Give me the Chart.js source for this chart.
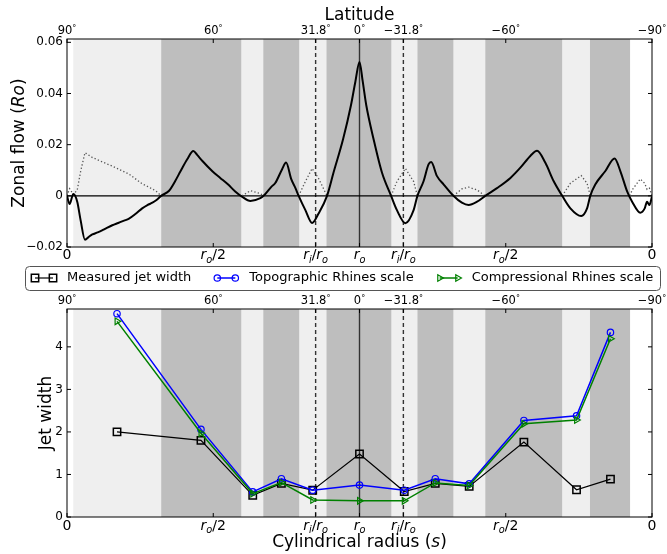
<!DOCTYPE html>
<html>
<head>
<meta charset="utf-8">
<script src="https://cdn.jsdelivr.net/npm/chart.js@4.4.1/dist/chart.umd.min.js"></script>
<style>
  html, body { margin: 0; padding: 0; background: #fff; }
  #fig { position: relative; width: 667px; height: 554px; }
  canvas { position: absolute; left: 0; }
  #flowCanvas { top: 0; }
  #jetCanvas { top: 264px; }
</style>
</head>
<body>
<div id="fig">
  <canvas id="flowCanvas" width="667" height="264"></canvas>
  <canvas id="jetCanvas" width="667" height="290"></canvas>
</div>
<script>
// Horizontal coordinate: cylindrical radius s on the northern half (0 -> r_o),
// then 2 - s on the southern half (r_o -> 0), so the equator sits at 1.

// ---- zonal flow profile (units of Ro) ----
const flowS = [0.000, 0.009, 0.0215, 0.035, 0.0465, 0.0615, 0.075, 0.0865, 0.105, 0.120,
  0.132, 0.155, 0.175, 0.195, 0.212, 0.235, 0.257, 0.275, 0.292, 0.306,
  0.322, 0.349, 0.370, 0.388, 0.411, 0.432, 0.445, 0.463, 0.497, 0.524,
  0.550, 0.575, 0.598, 0.627, 0.661, 0.672, 0.700, 0.712, 0.735, 0.749,
  0.767, 0.781, 0.792, 0.815, 0.838, 0.860, 0.889, 0.911, 0.944, 0.971,
  0.986, 1.000, 1.011, 1.023, 1.048, 1.077, 1.108, 1.128, 1.157, 1.185,
  1.198, 1.219, 1.236, 1.245, 1.265, 1.288, 1.321, 1.350, 1.373, 1.402,
  1.430, 1.470, 1.516, 1.550, 1.584, 1.607, 1.635, 1.664, 1.693, 1.721,
  1.758, 1.778, 1.789, 1.806, 1.840, 1.872, 1.892, 1.915, 1.932, 1.960,
  1.975, 1.983, 1.991, 2.000];
const flowU = [0.0000, -0.0032, 0.0007, -0.0023, -0.0095, -0.0172, -0.0160, -0.0151, -0.0143, -0.0135,
  -0.0128, -0.0115, -0.0106, -0.0097, -0.0089, -0.0070, -0.0049, -0.0036, -0.0027, -0.0016,
  0.0000, 0.0020, 0.0058, 0.0096, 0.0143, 0.0175, 0.0160, 0.0136, 0.0096, 0.0070,
  0.0045, 0.0017, -0.0003, -0.0020, -0.0009, 0.0000, 0.0037, 0.0050, 0.0103, 0.0130,
  0.0064, 0.0030, 0.0000, -0.0056, -0.0106, -0.0069, 0.0000, 0.0090, 0.0222, 0.0355,
  0.0447, 0.0523, 0.0447, 0.0355, 0.0222, 0.0090, 0.0000, -0.0056, -0.0107, -0.0056,
  0.0000, 0.0057, 0.0123, 0.0132, 0.0077, 0.0044, 0.0000, -0.0027, -0.0036, -0.0023,
  0.0000, 0.0030, 0.0070, 0.0110, 0.0156, 0.0176, 0.0130, 0.0057, 0.0000, -0.0049,
  -0.0079, -0.0049, 0.0000, 0.0044, 0.0096, 0.0146, 0.0096, 0.0017, -0.0023, -0.0066,
  -0.0049, -0.0023, -0.0036, -0.0003];

// magnitude of the westward flow (dotted); null separates the westward patches
const westS = [0.000, 0.009, 0.0215, 0.035, 0.0465, 0.0615, 0.0865, 0.132, 0.155, 0.212, 0.257, 0.292, 0.306, 0.322,
  0.40,
  0.598, 0.627, 0.661, 0.672,
  0.73,
  0.792, 0.815, 0.838, 0.860, 0.889,
  1.0,
  1.108, 1.128, 1.157, 1.185, 1.198,
  1.25,
  1.321, 1.350, 1.373, 1.402, 1.430,
  1.55,
  1.693, 1.721, 1.758, 1.778, 1.789,
  1.85,
  1.925, 1.932, 1.960, 1.975, 1.983, 1.991, 2.000];
const westU = [0.0000, 0.0028, 0.0005, 0.0023, 0.0095, 0.0169, 0.0150, 0.0127, 0.0116, 0.0085, 0.0047, 0.0027, 0.0017, 0.0000,
  null,
  0.0000, 0.0020, 0.0009, 0.0000,
  null,
  0.0000, 0.0056, 0.0107, 0.0068, 0.0000,
  null,
  0.0000, 0.0056, 0.0107, 0.0056, 0.0000,
  null,
  0.0000, 0.0027, 0.0034, 0.0023, 0.0000,
  null,
  0.0000, 0.0049, 0.0079, 0.0049, 0.0000,
  null,
  0.0000, 0.0023, 0.0066, 0.0049, 0.0025, 0.0030, 0.0000];

// shaded zones: westward (light) and eastward (dark) flow
const westwardBands = [[0.0215, 0.322], [0.596, 0.671], [0.794, 0.887], [1.109, 1.198], [1.321, 1.430], [1.693, 1.788]];
const eastwardBands = [[0.322, 0.596], [0.671, 0.794], [0.887, 1.109], [1.198, 1.321], [1.430, 1.693], [1.788, 1.925]];

// ---- jet widths at each jet position ----
const jetS = [0.171, 0.458, 0.635, 0.733, 0.840, 1.000, 1.153, 1.259, 1.375, 1.562, 1.742, 1.858];
const measuredWidth = [2.00, 1.80, 0.51, 0.79, 0.63, 1.48, 0.60, 0.79, 0.72, 1.76, 0.64, 0.89];
const topoRhines    = [4.78, 2.06, 0.59, 0.90, 0.63, 0.75, 0.63, 0.90, 0.78, 2.27, 2.38, 4.34];
const comprRhines   = [4.60, 1.97, 0.55, 0.81, 0.40, 0.38, 0.38, 0.80, 0.74, 2.19, 2.28, 4.19];

// ---- axes ----
const latTicks = [0, 0.5, 0.85, 1, 1.15, 1.5, 2];
const latLabels = ['90', '60', '31.8', '0', '\u221231.8', '\u221260', '\u221290'];
const radTicks = [0, 0.5, 0.85, 1, 1.15, 1.5, 2];
const radLabels = ['0', 'r_o/2', 'r_i/r_o', 'r_o', 'r_i/r_o', 'r_o/2', '0'];
const flowTicks = [-0.02, 0, 0.02, 0.04, 0.06];
const flowTickLabels = ['\u22120.02', '0', '0.02', '0.04', '0.06'];
const widthTicks = [0, 1, 2, 3, 4];
const widthTickLabels = ['0', '1', '2', '3', '4'];
const tangentCylinder = [0.85, 1.15];
const equator = 1;

const FONT = "'DejaVu Sans', sans-serif";
const LIGHT = '#efefef';
const DARK = '#bebebe';

// --- small mathtext-like renderer: letters italic, "_x" subscripted ---
function mathParts(str, size) {
  const parts = [];
  for (let i = 0; i < str.length; i++) {
    const c = str[i];
    if (c === '_') parts.push({ t: str[++i], size: size * 0.7, italic: true, dy: size * 0.25 });
    else if (/[A-Za-z]/.test(c)) parts.push({ t: c, size, italic: true, dy: 0 });
    else parts.push({ t: c, size, italic: false, dy: 0 });
  }
  return parts;
}
function setFont(ctx, p) { ctx.font = (p.italic ? 'italic ' : '') + p.size + 'px ' + FONT; }
function partsWidth(ctx, parts) {
  let w = 0;
  for (const p of parts) { setFont(ctx, p); w += ctx.measureText(p.t).width; }
  return w;
}
function drawParts(ctx, parts, cx, y) {
  let x = cx - partsWidth(ctx, parts) / 2;
  ctx.textAlign = 'left';
  ctx.textBaseline = 'alphabetic';
  for (const p of parts) {
    setFont(ctx, p);
    ctx.fillText(p.t, x, y + p.dy);
    x += ctx.measureText(p.t).width;
  }
}

function markerAt(ctx, ds, x, y) {
  ctx.save();
  ctx.strokeStyle = ds.pointBorderColor;
  ctx.fillStyle = 'rgba(0,0,0,0)';
  ctx.lineWidth = ds.pointBorderWidth;
  Chart.helpers.drawPoint(ctx, {
    pointStyle: ds.pointStyle, radius: ds.pointRadius,
    rotation: ds.pointRotation || 0, borderWidth: ds.pointBorderWidth
  }, x, y);
  ctx.restore();
}

const panelDecor = {
  id: 'panelDecor',
  beforeDatasetsDraw(chart, args, opts) {
    const { ctx, chartArea: a, scales: { x, y } } = chart;
    ctx.save();
    const fillBands = (bands, color) => {
      ctx.fillStyle = color;
      bands.forEach(([s0, s1]) => {
        const p0 = x.getPixelForValue(s0), p1 = x.getPixelForValue(s1);
        ctx.fillRect(p0, a.top, p1 - p0, a.bottom - a.top);
      });
    };
    fillBands(westwardBands, LIGHT);
    fillBands(eastwardBands, DARK);

    // equator
    ctx.strokeStyle = '#333';
    ctx.lineWidth = 1.4;
    const xe = x.getPixelForValue(equator);
    ctx.beginPath(); ctx.moveTo(xe, a.top); ctx.lineTo(xe, a.bottom); ctx.stroke();
    // tangent cylinder
    ctx.setLineDash([4, 3]);
    tangentCylinder.forEach(s => {
      const xp = x.getPixelForValue(s);
      ctx.beginPath(); ctx.moveTo(xp, a.top); ctx.lineTo(xp, a.bottom); ctx.stroke();
    });
    ctx.setLineDash([]);
    if (opts.zeroLine) {
      const y0 = y.getPixelForValue(0);
      ctx.strokeStyle = '#000';
      ctx.lineWidth = 1.3;
      ctx.beginPath(); ctx.moveTo(a.left, y0); ctx.lineTo(a.right, y0); ctx.stroke();
    }
    ctx.restore();
  },
  afterDraw(chart, args, opts) {
    const { ctx, chartArea: a, scales: { x, y } } = chart;
    ctx.save();
    // frame
    ctx.strokeStyle = '#000';
    ctx.lineWidth = 1;
    ctx.strokeRect(a.left, a.top, a.right - a.left, a.bottom - a.top);
    // inward tick marks on all four sides
    const T = 4;
    ctx.beginPath();
    opts.yTicks.forEach(v => {
      const yp = y.getPixelForValue(v);
      ctx.moveTo(a.left, yp); ctx.lineTo(a.left + T, yp);
      ctx.moveTo(a.right, yp); ctx.lineTo(a.right - T, yp);
    });
    latTicks.forEach(v => {
      const xp = x.getPixelForValue(v);
      ctx.moveTo(xp, a.top); ctx.lineTo(xp, a.top + T);
    });
    radTicks.forEach(v => {
      const xp = x.getPixelForValue(v);
      ctx.moveTo(xp, a.bottom); ctx.lineTo(xp, a.bottom - T);
    });
    ctx.stroke();

    ctx.fillStyle = '#000';
    // latitude labels along the top
    latTicks.forEach((v, i) => {
      const parts = [{ t: latLabels[i], size: 11.5, italic: false, dy: 0 },
                     { t: '\u00b0', size: 8, italic: false, dy: -3 }];
      drawParts(ctx, parts, x.getPixelForValue(v), a.top - 5);
    });
    // radius labels along the bottom
    radTicks.forEach((v, i) => {
      drawParts(ctx, mathParts(radLabels[i], 14), x.getPixelForValue(v), a.bottom + opts.radLabelDrop);
    });
    // axis titles
    if (opts.topTitle) {
      drawParts(ctx, [{ t: opts.topTitle, size: 17, italic: false, dy: 0 }], (a.left + a.right) / 2, a.top - 19);
    }
    if (opts.bottomTitle) {
      drawParts(ctx, opts.bottomTitle, (a.left + a.right) / 2, a.bottom + 30);
    }
    ctx.save();
    ctx.translate(opts.yTitleX, (a.top + a.bottom) / 2);
    ctx.rotate(-Math.PI / 2);
    drawParts(ctx, opts.yTitle, 0, 0);
    ctx.restore();

    if (opts.legend) {
      const box = { left: 25, top: 2, right: 660, bottom: 26 };
      ctx.beginPath();
      if (ctx.roundRect) ctx.roundRect(box.left + 0.5, box.top + 0.5, box.right - box.left, box.bottom - box.top, 4);
      else ctx.rect(box.left + 0.5, box.top + 0.5, box.right - box.left, box.bottom - box.top);
      ctx.fillStyle = '#fff';
      ctx.fill();
      ctx.strokeStyle = '#555';
      ctx.lineWidth = 1;
      ctx.stroke();
      const cy = (box.top + box.bottom) / 2;
      let lx = box.left + 6;
      chart.data.datasets.forEach(ds => {
        const m0 = lx + 4, m1 = lx + 22;
        ctx.strokeStyle = ds.borderColor;
        ctx.lineWidth = ds.borderWidth;
        ctx.beginPath(); ctx.moveTo(m0, cy); ctx.lineTo(m1, cy); ctx.stroke();
        markerAt(ctx, ds, m0, cy);
        markerAt(ctx, ds, m1, cy);
        ctx.fillStyle = '#000';
        ctx.font = '13px ' + FONT;
        ctx.textAlign = 'left';
        ctx.textBaseline = 'middle';
        ctx.fillText(ds.label, lx + 36, cy);
        lx += 36 + ctx.measureText(ds.label).width + 22;
      });
    }
    ctx.restore();
  }
};

function xAxis() {
  return { type: 'linear', min: 0, max: 2, display: false };
}
function yAxis(min, max, ticks, labels) {
  return {
    type: 'linear', min, max,
    afterBuildTicks: s => { s.ticks = ticks.map(v => ({ value: v })); },
    afterFit: s => { s.width = 67; },
    grid: { display: false, drawTicks: false },
    border: { display: false },
    ticks: {
      padding: 4, color: '#000', autoSkip: false,
      font: { family: FONT, size: 12 },
      callback: (v, i) => labels[i]
    }
  };
}

const common = {
  responsive: false,
  animation: false,
  devicePixelRatio: 1,
  events: [],
};

new Chart(document.getElementById('flowCanvas'), {
  type: 'line',
  data: {
    datasets: [
      {
        label: 'Zonal flow',
        data: flowS.map((s, i) => ({ x: s, y: flowU[i] })),
        borderColor: '#000', borderWidth: 2, pointRadius: 0,
        cubicInterpolationMode: 'monotone', order: 1
      },
      {
        label: 'Westward flow magnitude',
        data: westS.map((s, i) => ({ x: s, y: westU[i] })),
        borderColor: '#555', borderWidth: 1.3, borderDash: [1.3, 2.2],
        pointRadius: 0, spanGaps: false, order: 2
      }
    ]
  },
  options: {
    ...common,
    layout: { padding: { top: 39, right: 15, bottom: 17, left: 0 } },
    scales: { x: xAxis(), y: yAxis(-0.02, 0.0613, flowTicks, flowTickLabels) },
    plugins: {
      legend: { display: false },
      tooltip: { enabled: false },
      panelDecor: {
        zeroLine: true,
        yTicks: flowTicks,
        radLabelDrop: 12,
        topTitle: 'Latitude',
        yTitleX: 24,
        yTitle: [
          { t: 'Zonal flow (', size: 17, italic: false, dy: 0 },
          { t: 'Ro', size: 17, italic: true, dy: 0 },
          { t: ')', size: 17, italic: false, dy: 0 }
        ]
      }
    }
  },
  plugins: [panelDecor]
});

new Chart(document.getElementById('jetCanvas'), {
  type: 'line',
  data: {
    datasets: [
      {
        label: 'Measured jet width',
        data: jetS.map((s, i) => ({ x: s, y: measuredWidth[i] })),
        borderColor: '#000', borderWidth: 1.2,
        pointStyle: 'rect', pointRadius: 5.2, pointBorderWidth: 1.5,
        pointBorderColor: '#000', pointBackgroundColor: 'rgba(0,0,0,0)', order: 3
      },
      {
        label: 'Topographic Rhines scale',
        data: jetS.map((s, i) => ({ x: s, y: topoRhines[i] })),
        borderColor: '#0000ff', borderWidth: 1.5,
        pointStyle: 'circle', pointRadius: 3.2, pointBorderWidth: 1.2,
        pointBorderColor: '#0000ff', pointBackgroundColor: 'rgba(0,0,0,0)', order: 2
      },
      {
        label: 'Compressional Rhines scale',
        data: jetS.map((s, i) => ({ x: s, y: comprRhines[i] })),
        borderColor: '#008000', borderWidth: 1.5,
        pointStyle: 'triangle', pointRotation: 90, pointRadius: 3.8, pointBorderWidth: 1.2,
        pointBorderColor: '#008000', pointBackgroundColor: 'rgba(0,0,0,0)', order: 1
      }
    ]
  },
  options: {
    ...common,
    layout: { padding: { top: 45, right: 15, bottom: 37, left: 0 } },
    scales: { x: xAxis(), y: yAxis(0, 4.89, widthTicks, widthTickLabels) },
    plugins: {
      legend: { display: false },
      tooltip: { enabled: false },
      panelDecor: {
        zeroLine: false,
        yTicks: widthTicks,
        radLabelDrop: 12.5,
        legend: true,
        bottomTitle: [
          { t: 'Cylindrical radius (', size: 17, italic: false, dy: 0 },
          { t: 's', size: 17, italic: true, dy: 0 },
          { t: ')', size: 17, italic: false, dy: 0 }
        ],
        yTitleX: 51,
        yTitle: [{ t: 'Jet width', size: 17, italic: false, dy: 0 }]
      }
    }
  },
  plugins: [panelDecor]
});
</script>
</body>
</html>
